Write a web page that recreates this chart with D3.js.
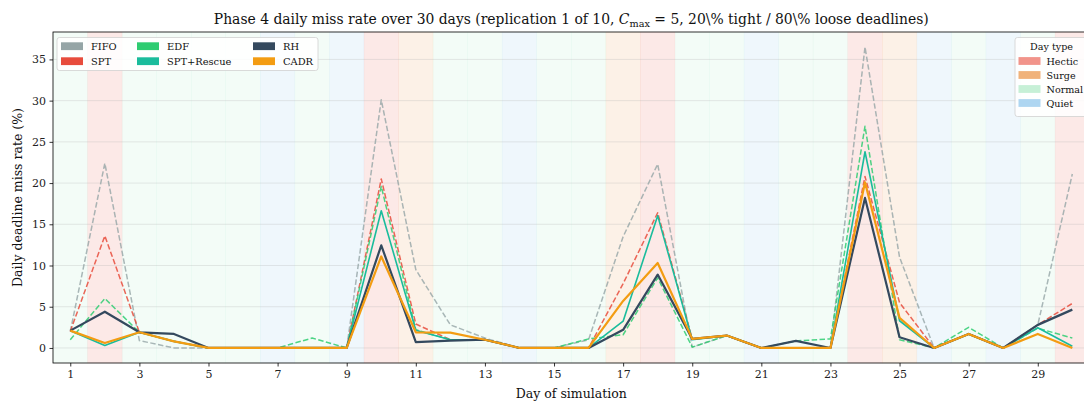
<!DOCTYPE html>
<html>
<head>
<meta charset="utf-8">
<script src="https://cdn.jsdelivr.net/npm/d3@7"></script>
<style>
  html, body { margin: 0; padding: 0; background: #fff; overflow: hidden; }
  svg { display: block; font-family: "DejaVu Serif", serif; }
</style>
</head>
<body>
<svg id="chart" width="1084" height="403"></svg>
<script>
// Days of the simulation
const days = d3.range(1, 31);

// Day type of each day: H = Hectic, S = Surge, N = Normal, Q = Quiet
const dayTypes = ["N","H","N","N","N","N","Q","N","Q","H",
                  "S","N","N","Q","N","N","S","H","N","N",
                  "Q","N","N","H","S","Q","N","Q","N","H"];

// Daily deadline miss rate (%) per scheduling policy
const fifo = [2.0,22.4,0.9,0,0,0,0,0,0,30.1, 9.5,2.8,1.2,0,0,1.0,13.5,22.3,0.1,1.5, 0,0,0,36.5,11.0,0,1.7,0,2.8,21.1];
const spt  = [2.0,13.6,1.9,0.8,0,0,0,0,0,20.5, 2.9,1.0,1.0,0,0,0,7.8,16.4,1.1,1.5, 0,0,0,20.8,5.5,0,1.7,0,2.8,5.4];
const edf  = [1.0,6.0,1.9,0.8,0,0,0,1.2,0,19.6, 2.2,1.0,1.0,0,0,1.1,1.6,8.5,0.1,1.5, 0,0.85,1.1,26.9,1.0,0,2.5,0,2.4,1.2];
const sptRescue = [2.1,0.3,1.9,0.8,0,0,0,0,0,16.65, 2.15,1.0,1.0,0,0,0,3.25,16.05,1.0,1.5, 0,0,0,23.8,3.3,0,1.7,0,2.45,0.2];
const rh   = [2.1,4.4,1.9,1.7,0,0,0,0,0,12.45, 0.7,0.9,1.0,0,0,0,2.2,8.9,1.1,1.5, 0,0.85,0,18.2,1.3,0,1.7,0,2.8,4.65];
const cadr = [2.1,0.6,1.9,0.8,0,0,0,0,0,11.1, 1.9,1.85,1.0,0,0,0,5.7,10.3,1.1,1.5, 0,0,0,20.1,3.65,0,1.7,0,1.7,0];

const seriesNames = ["FIFO","SPT","EDF","SPT+Rescue","RH","CADR"];
const seriesValues = [fifo, spt, edf, sptRescue, rh, cadr];

// Tick labels
const xTicks = [1,3,5,7,9,11,13,15,17,19,21,23,25,27,29];
const yTicks = [0,5,10,15,20,25,30,35];

// Styling
const seriesStyle = {
  "FIFO":       {color:"#95A5A6", width:1.5, dash:"5.5,2.4", opacity:0.8},
  "SPT":        {color:"#E74C3C", width:1.5, dash:"5.5,2.4", opacity:0.85},
  "EDF":        {color:"#2ECC71", width:1.5, dash:"5.5,2.4", opacity:0.85},
  "SPT+Rescue": {color:"#1ABC9C", width:1.6, dash:null, opacity:1},
  "RH":         {color:"#34495E", width:2.2, dash:null, opacity:1},
  "CADR":       {color:"#F39C12", width:2.2, dash:null, opacity:1}
};
const typeInfo = {
  H: {label:"Hectic", base:"#E74C3C", band:0.12, swatch:"#F1948A"},
  S: {label:"Surge",  base:"#E67E22", band:0.11, swatch:"#F0B27A"},
  N: {label:"Normal", base:"#2ECC71", band:0.06, swatch:"#C6F0D6"},
  Q: {label:"Quiet",  base:"#3498DB", band:0.08, swatch:"#AED6F1"}
};
const typeOrder = ["H","S","N","Q"];

const svg = d3.select("#chart");
const margin = {left:53, top:32, right:1089.6, bottom:363};

const x = d3.scaleLinear().domain([0.5, 30.5]).range([margin.left, margin.right]);
const y = d3.scaleLinear().domain([-1.825, 38.325]).range([margin.bottom, margin.top]);

const plot = svg.append("g");

// Day-type background bands
plot.append("g").selectAll("rect").data(days).join("rect")
  .attr("x", d => x(d - 0.5))
  .attr("width", d => x(d + 0.5) - x(d - 0.5))
  .attr("y", margin.top)
  .attr("height", margin.bottom - margin.top)
  .attr("fill", (d,i) => typeInfo[dayTypes[i]].base)
  .attr("fill-opacity", (d,i) => typeInfo[dayTypes[i]].band)
  .attr("stroke", (d,i) => typeInfo[dayTypes[i]].base)
  .attr("stroke-opacity", (d,i) => typeInfo[dayTypes[i]].band * 0.5)
  .attr("stroke-width", 0.6);

// Horizontal grid
plot.append("g").selectAll("line").data(yTicks).join("line")
  .attr("x1", margin.left).attr("x2", margin.right)
  .attr("y1", d => y(d)).attr("y2", d => y(d))
  .attr("stroke", "#b0b0b0").attr("stroke-opacity", 0.35).attr("stroke-width", 0.8);

// Series lines
const line = d3.line().x((d,i) => x(days[i])).y(d => y(d));
seriesNames.forEach((name, k) => {
  const st = seriesStyle[name];
  plot.append("path")
    .datum(seriesValues[k])
    .attr("d", line)
    .attr("fill", "none")
    .attr("stroke", st.color)
    .attr("stroke-width", st.width)
    .attr("stroke-opacity", st.opacity)
    .attr("stroke-dasharray", st.dash)
    .attr("stroke-linejoin", "round");
});

// Axes
const xAxis = d3.axisBottom(x).tickValues(xTicks).tickSize(3.5).tickPadding(3.5).tickFormat(d3.format("d"));
const yAxis = d3.axisLeft(y).tickValues(yTicks).tickSize(3.5).tickPadding(3.5).tickFormat(d3.format("d"));

const gx = svg.append("g").attr("transform", `translate(0,${margin.bottom})`).call(xAxis);
const gy = svg.append("g").attr("transform", `translate(${margin.left},0)`).call(yAxis);
[gx, gy].forEach(g => {
  g.select(".domain").remove();
  g.selectAll(".tick line").attr("stroke", "#000").attr("stroke-width", 0.8);
  g.selectAll(".tick text").attr("fill", "#222").style("font-family", "DejaVu Serif").style("font-size", "11px");
});

// Spines
svg.append("rect")
  .attr("x", margin.left).attr("y", margin.top)
  .attr("width", margin.right - margin.left).attr("height", margin.bottom - margin.top)
  .attr("fill", "none").attr("stroke", "#000").attr("stroke-width", 0.8);

// Title
const title = svg.append("text")
  .attr("x", (margin.left + margin.right) / 2).attr("y", 24)
  .attr("text-anchor", "middle")
  .style("font-size", "13.9px").attr("fill", "#111");
title.append("tspan").text("Phase 4 daily miss rate over 30 days (replication 1 of 10, ");
title.append("tspan").style("font-style", "italic").text("C");
title.append("tspan").attr("dy", 3).style("font-size", "9.7px").text("max");
title.append("tspan").attr("dy", -3).text(" = 5, 20\\% tight / 80\\% loose deadlines)");

// Axis labels
svg.append("text")
  .attr("x", (margin.left + margin.right) / 2).attr("y", 397.5)
  .attr("text-anchor", "middle").style("font-size", "12.5px").attr("fill", "#111")
  .text("Day of simulation");
svg.append("text")
  .attr("transform", `translate(21.5,${(margin.top + margin.bottom) / 2}) rotate(-90)`)
  .attr("text-anchor", "middle").style("font-size", "12.5px").attr("fill", "#111")
  .text("Daily deadline miss rate (%)");

// Policy legend
const lg = svg.append("g");
lg.append("rect").attr("x", 57).attr("y", 37.5).attr("width", 261).attr("height", 33)
  .attr("rx", 2.5).attr("fill", "#fff").attr("fill-opacity", 0.85)
  .attr("stroke", "#d0d0d0").attr("stroke-width", 0.8);
const colX = [61, 137, 253];
seriesNames.forEach((name, i) => {
  const cx = colX[Math.floor(i / 2)];
  const cy = 46.2 + (i % 2) * 15;
  lg.append("rect").attr("x", cx).attr("y", cy - 3.9).attr("width", 22).attr("height", 7.8)
    .attr("fill", seriesStyle[name].color);
  lg.append("text").attr("x", cx + 30).attr("y", cy + 3.5)
    .style("font-size", "9.9px").attr("fill", "#111").text(name);
});

// Day type legend
const tg = svg.append("g");
tg.append("rect").attr("x", 1015).attr("y", 37.5).attr("width", 74).attr("height", 79)
  .attr("rx", 2.5).attr("fill", "#fff").attr("fill-opacity", 0.85)
  .attr("stroke", "#d0d0d0").attr("stroke-width", 0.8);
tg.append("text").attr("x", 1051.5).attr("y", 49.5).attr("text-anchor", "middle")
  .style("font-size", "9.6px").attr("fill", "#111").text("Day type");
typeOrder.forEach((t, i) => {
  const cy = 61 + i * 14;
  tg.append("rect").attr("x", 1018.5).attr("y", cy - 3.9).attr("width", 22).attr("height", 7.8)
    .attr("fill", typeInfo[t].swatch);
  tg.append("text").attr("x", 1046.5).attr("y", cy + 3.5)
    .style("font-size", "9.6px").attr("fill", "#111").text(typeInfo[t].label);
});
</script>
</body>
</html>
